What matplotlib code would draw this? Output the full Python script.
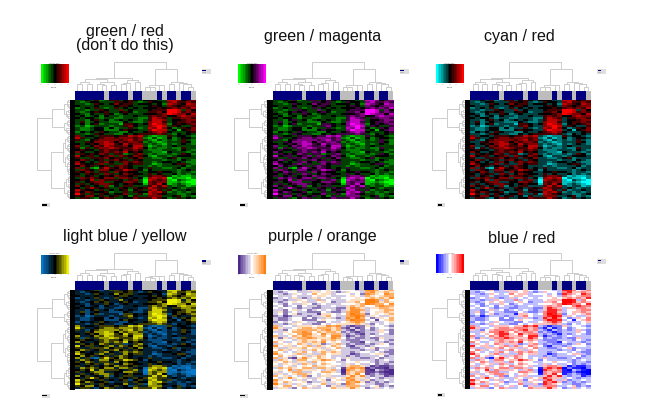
import numpy as np
import matplotlib
matplotlib.use('Agg')
import matplotlib.pyplot as plt
from matplotlib.colors import LinearSegmentedColormap

W, H = 646, 418

titles = ['green / red\n(don\u2019t do this)', 'green / magenta', 'cyan / red',
          'light blue / yellow', 'purple / orange', 'blue / red']
low_colors = ['#00ff00', '#00ff00', '#00ffff', '#0a78c8', '#4b2a8c', '#0000ff']
mid_colors = ['#000000', '#000000', '#000000', '#000000', '#ffffff', '#ffffff']
high_colors = ['#ff0000', '#ff00ff', '#ff0000', '#f0f000', '#ff7f0e', '#ff0000']
color_limits = [4, 4, 4, 3.7, 3.7, 3.8]

# 1 = blue sample, 0 = gray sample
col_groups = [1, 1, 1, 1, 1, 1, 0, 1, 1, 1, 1, 0, 1, 1, 0, 0, 0, 1, 0, 1, 1, 0, 1, 1, 0]

expr_rows = [
    "3343523 5534543 4 4433 776456",
    "3234433 3554532 3 5443 675565",
    "3323543 4645534 4 4342 765476",
    "4333433 3455433 3 4543 654566",
    "2343532 3534343 4 4454 565657",
    "3323354 3363433 3 4555 887364",
    "3234545 3345423 3 5564 887565",
    "4324335 4234333 4 4456 876647",
    "3423424 3323343 3 5656 446766",
    "4344323 3223332 2 5765 355665",
    "3324534 2343432 3 5776 344566",
    "3523433 2224322 3 6775 345565",
    "3424523 3315543 4 6876 245456",
    "2312333 2335643 3 6787 354335",
    "3223442 4233532 3 7686 423546",
    "3223442 2245443 3 6877 341456",
    "2434354 3322433 4 5676 433345",
    "3323543 3224345 5 5565 324343",
    "6344355 5455767 3 2122 534432",
    "7533456 6566656 2 1312 423443",
    "5324566 6656756 3 2132 323532",
    "3354667 6465665 2 3212 333542",
    "4345467 7547566 3 2321 323432",
    "6334657 6556477 3 1232 343333",
    "5253566 7655576 4 2322 322533",
    "4544356 5546565 3 2223 332432",
    "6433456 5657454 3 3221 433323",
    "3545465 3552356 3 2322 323542",
    "7455345 6365465 4 2133 234443",
    "5335556 4553546 3 3223 452333",
    "4653453 5645354 3 3332 332432",
    "6434356 4356565 3 3234 434322",
    "7544563 5336455 3 3123 345532",
    "4645345 3565433 3 2323 333423",
    "6352157 5465434 3 5332 234233",
    "3654366 4557654 2 4333 332343",
    "5465355 3645443 3 4454 432332",
    "4354536 5346544 3 5343 342323",
    "5345345 4655453 3 5665 312112",
    "3656546 6366534 1 6767 021102",
    "4547365 5543563 0 7656 103210",
    "5345663 3446653 0 6566 112100",
    "3534566 5434544 1 6574 123210",
    "6453436 2435533 3 5757 323312",
    "4357545 3354354 5 7655 343233",
    "7544353 4345245 3 6753 523343",
    "6465445 2335354 4 7675 232323",
    "8535354 3446335 2 7654 332234",
    "5466453 4534253 3 6663 345232",
    "3553246 5334465 5 5754 235343",
]
expr = [[int(c) - 4 for c in row.replace(' ', '')] for row in expr_rows]

# dendrograms: (height in px, left, right), a plain int is a leaf
col_tree = (28,
            (12.5,
             (11,
              (8, (6, 0, 1), (6, 2, 3)),
              (8.5, (6.5, 4, (5.5, 5, 6)), (5, 7, 8))),
             (10,
              (7.5, (6, 9, 10), 11),
              (8, 12, 13))),
            (21,
             (5.5, (4, 14, (3.5, 15, 16)), (5, 17, 18)),
             (8, (6, 19, 20), (7, 21, (6, 22, (4, 23, 24))))))

upper_tree = (18,
              (6, (3, (1.5, 0, 1), (2, 2, (1, 3, 4))), (4, (2, 5, 6), (2.5, 7, (1.5, 8, 9)))),
              (5.5, (3, (2, 10, 11), (1.5, 12, 13)), (3.5, 14, (2.5, 15, (1.5, 16, 17)))))
middle_tree = (7,
               (5, (3, (2, 18, 19), (2, 20, 21)), (3, (1.5, 22, 23), (2, 24, (1, 25, 26)))),
               (4.5, (3, (2, 27, 28), (1.5, 29, 30)),
                (3, (2, 31, 32), (2.5, 33, (2, (1, 34, 35), (1.5, 36, 37))))))
bottom_tree = (6,
               (4, (2, (1, 38, 39), (1.5, 40, 41)), (2, 42, (1, 43, 44))),
               (3, (2, 45, 46), (2, 47, (1, 48, 49))))
row_tree = (33, upper_tree, (19, middle_tree, bottom_tree))

panel_x = [75, 272.7, 470.3, 75, 272.7, 470.3]
panel_y = [99.5, 99.5, 99.5, 290, 290, 289.5]
title_cx = [125, 322.5, 519.5, 124.5, 322.5, 521.5]
title_bottom = [53, 44, 44, 244.5, 244.5, 246]
HEAT_W, HEAT_H = 120.5, 99.5
line_gray = '#cccccc'


def px_axes(fig, x, y, w, h):
    # pixel rectangle measured from the top left of the image
    ax = fig.add_axes([x / W, 1 - (y + h) / H, w / W, h / H])
    ax.set_axis_off()
    return ax


def draw_tree(ax, node, horizontal):
    if isinstance(node, int):
        return node + 0.5, 0
    height, left, right = node
    p1, h1 = draw_tree(ax, left, horizontal)
    p2, h2 = draw_tree(ax, right, horizontal)
    pos = [p1, p1, p2, p2]
    hts = [h1, height, height, h2]
    if horizontal:
        ax.plot(pos, hts, color=line_gray, lw=0.7, solid_joinstyle='miter')
    else:
        ax.plot(hts, pos, color=line_gray, lw=0.7, solid_joinstyle='miter')
    return (p1 + p2) / 2, height


def small_legend(fig, x, y, w, h):
    leg = px_axes(fig, x, y, w, h)
    leg.set_axis_on()
    leg.set_facecolor('#dedede')
    leg.set_xticks([])
    leg.set_yticks([])
    for s in leg.spines.values():
        s.set_visible(False)
    leg.set_xlim(0, 1)
    leg.set_ylim(0, 1)
    return leg


def draw_panel(fig, i):
    x0, y0 = panel_x[i], panel_y[i]
    cmap = LinearSegmentedColormap.from_list('c', [low_colors[i], mid_colors[i], high_colors[i]], N=17)
    data = np.array(expr)
    nrow, ncol = data.shape
    lim = color_limits[i]

    ax = px_axes(fig, x0, y0, HEAT_W, HEAT_H)
    ax.imshow(data, cmap=cmap, vmin=-lim, vmax=lim, aspect='auto', interpolation='nearest')

    # sample bar above the heatmap
    bar = px_axes(fig, x0, y0 - 9, HEAT_W, 9)
    bar.bar(np.arange(ncol) + 0.5, np.ones(ncol), width=1,
            color=['#00007f' if g else '#bdbdbd' for g in col_groups])
    bar.set_xlim(0, ncol)
    bar.set_ylim(0, 1)

    # black gene bar left of the heatmap
    side = px_axes(fig, x0 - 5.5, y0, 5.5, HEAT_H)
    side.barh(np.arange(nrow) + 0.5, np.ones(nrow), height=1, color='black')
    side.set_xlim(0, 1)
    side.set_ylim(nrow, 0)

    top = px_axes(fig, x0, y0 - 39, HEAT_W, 30)
    draw_tree(top, col_tree, True)
    top.set_xlim(0, ncol)
    top.set_ylim(0, 30)

    left = px_axes(fig, x0 - 40, y0, 34.5, HEAT_H)
    draw_tree(left, row_tree, False)
    left.set_xlim(34.5, 0)
    left.set_ylim(nrow, 0)

    # colour key
    key = px_axes(fig, x0 - 34.5, y0 - 35.5, 28, 19.5)
    key.imshow(np.linspace(-4, 4, 17).reshape(1, -1), cmap=cmap, vmin=-4, vmax=4,
               aspect='auto', interpolation='nearest')
    key.set_axis_on()
    for s in key.spines.values():
        s.set_visible(False)
    key.set_xticks([0, 4, 8, 12, 16])
    key.set_xticklabels([])
    key.set_yticks([])
    key.tick_params(axis='x', length=1, width=0.3, color='#888888', pad=0)
    fig.text((x0 - 20.5) / W, 1 - (y0 - 36) / H, 'Color Key', fontsize=1.6, color='#555555',
             ha='center', va='bottom')
    fig.text((x0 - 20.5) / W, 1 - (y0 - 12.5) / H, 'Value', fontsize=1.6, color='#555555',
             ha='center', va='center')

    # small legends
    leg = small_legend(fig, x0 + 127, y0 - 30.5, 9, 5)
    leg.barh([0.7], [0.4], height=0.3, left=0.05, color='#00007f')
    leg.barh([0.3], [0.4], height=0.3, left=0.05, color='#bdbdbd')

    leg2 = small_legend(fig, x0 - 33, y0 + 103.5, 8, 4)
    leg2.barh([0.5], [0.55], height=0.4, left=0.05, color='black')

    fig.text(title_cx[i] / W, 1 - title_bottom[i] / H, titles[i], fontsize=11.6, family='Liberation Sans',
             ha='center', va='bottom', linespacing=0.95, color='#111111')


def main():
    fig = plt.figure(figsize=(W / 100, H / 100), dpi=100)
    for i in range(6):
        draw_panel(fig, i)
    fig.savefig('out.png', dpi=100)


if __name__ == '__main__':
    main()
